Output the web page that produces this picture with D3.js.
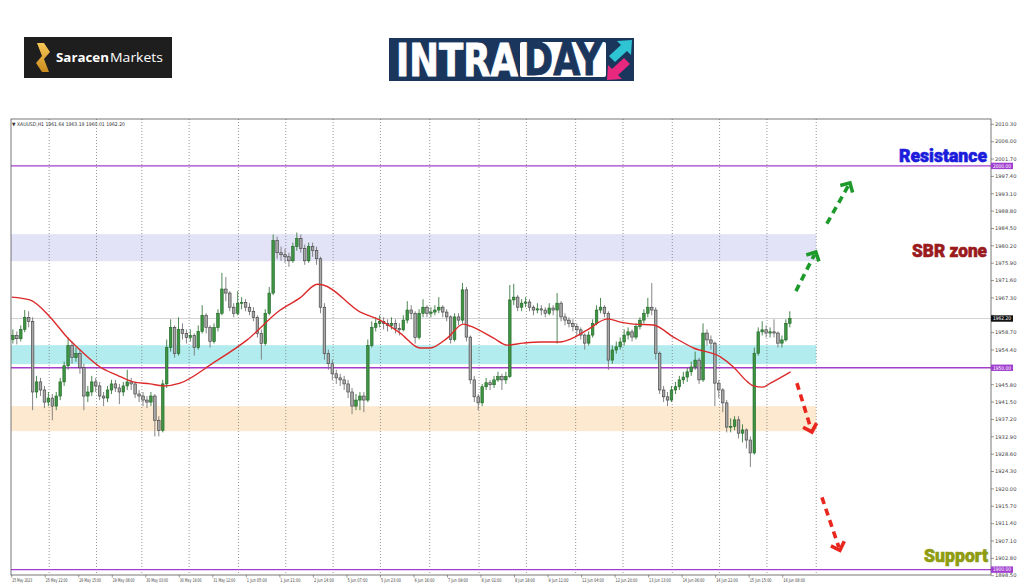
<!DOCTYPE html>
<html><head><meta charset="utf-8">
<script src="https://cdn.jsdelivr.net/npm/d3@7"></script>
<style>html,body{margin:0;padding:0;background:#fff;} svg{display:block;}</style>
</head><body>
<svg id="c" width="1024" height="587"></svg>
<script>
// ---------------- DATA ----------------
const symbol = "XAUUSD,H1";
const lastOHLC = [1961.64, 1963.19, 1960.01, 1962.20];
const lastPrice = 1962.20;
const firstOpen = 1957.0;
const closes = [
1958.0,1957.2,1959.5,1962.5,1961.5,1944.0,1946.5,1944.5,1941.5,1942.5,
1940.5,1943.0,1946.5,1950.5,1955.5,1952.5,1953.5,1950.0,1943.0,1944.0,
1946.5,1945.5,1943.0,1942.5,1944.5,1946.0,1945.0,1944.0,1945.5,1946.5,
1946.0,1943.5,1943.0,1942.0,1941.5,1943.0,1937.0,1934.5,1946.0,1955.0,
1960.0,1953.5,1959.5,1958.5,1957.5,1958.0,1955.0,1959.0,1963.0,1960.0,
1956.5,1960.0,1963.5,1969.5,1968.5,1965.0,1963.5,1966.0,1966.2,1965.0,
1964.0,1962.5,1958.5,1956.0,1963.5,1968.5,1981.5,1978.5,1978.0,1977.5,
1976.5,1980.0,1982.0,1979.5,1976.5,1980.0,1979.0,1977.0,1965.0,1953.5,
1951.0,1948.5,1947.5,1947.0,1946.0,1944.0,1940.5,1942.0,1943.0,1942.0,
1955.5,1960.0,1961.0,1961.5,1961.0,1960.5,1961.0,1959.7,1959.4,1961.8,
1964.3,1963.5,1957.5,1963.5,1965.0,1963.5,1963.8,1964.3,1965.0,1963.8,
1962.6,1957.0,1962.6,1961.8,1969.3,1957.6,1947.0,1942.8,1941.3,1945.3,
1946.3,1945.8,1947.0,1947.8,1947.0,1947.8,1966.8,1967.5,1965.0,1966.0,
1966.3,1965.0,1964.3,1964.6,1964.3,1963.5,1964.8,1964.3,1966.0,1962.6,
1961.8,1961.0,1960.2,1959.4,1958.1,1956.1,1958.1,1961.0,1964.3,1965.0,
1963.5,1951.9,1954.4,1955.2,1956.4,1958.1,1958.9,1957.6,1960.2,1961.8,
1963.5,1965.0,1964.3,1953.6,1944.5,1942.8,1942.0,1944.5,1945.3,1947.0,
1947.7,1949.0,1950.2,1951.9,1947.0,1958.6,1956.9,1956.1,1946.2,1944.5,
1941.3,1935.3,1935.5,1937.1,1933.8,1934.6,1932.1,1928.9,1953.6,1958.9,
1959.4,1958.6,1958.9,1958.6,1956.1,1956.9,1961.0,1962.2];
const highs = [
1959.5,1959.0,1960.5,1964.3,1964.0,1962.5,1948.0,1947.5,1945.5,1944.0,
1943.5,1944.0,1947.5,1951.5,1957.5,1956.5,1955.0,1954.5,1951.0,1945.5,
1948.0,1947.5,1946.5,1944.0,1945.5,1947.0,1947.0,1946.0,1946.5,1949.5,
1947.5,1946.5,1944.5,1944.0,1943.0,1944.0,1943.5,1938.0,1947.0,1957.0,
1962.0,1960.5,1962.5,1961.0,1959.5,1959.5,1958.5,1960.5,1965.5,1963.5,
1960.5,1961.0,1964.5,1973.5,1972.5,1969.0,1966.0,1969.0,1967.5,1967.0,
1966.0,1965.0,1963.0,1959.5,1964.5,1970.0,1983.0,1982.5,1980.0,1979.5,
1978.5,1981.0,1983.5,1983.0,1980.5,1981.0,1981.0,1980.0,1977.5,1966.0,
1954.5,1952.0,1949.5,1948.5,1948.0,1947.0,1945.0,1943.5,1944.0,1944.0,
1957.0,1961.5,1962.5,1963.0,1962.5,1962.0,1962.5,1962.0,1961.0,1963.0,
1966.5,1965.5,1964.0,1964.5,1967.0,1965.5,1965.0,1965.5,1967.5,1965.5,
1964.5,1963.0,1963.5,1963.5,1971.0,1970.0,1958.0,1948.0,1943.5,1946.0,
1947.5,1947.0,1948.0,1949.0,1948.5,1949.0,1970.5,1970.8,1968.0,1967.0,
1967.5,1967.0,1965.5,1966.0,1965.5,1965.0,1966.0,1965.5,1968.5,1966.5,
1963.5,1962.5,1962.0,1961.0,1960.0,1958.5,1959.0,1962.0,1965.5,1967.3,
1965.5,1964.0,1955.5,1956.5,1957.5,1959.5,1960.0,1959.5,1961.0,1962.5,
1964.5,1967.3,1971.0,1965.0,1954.0,1945.5,1944.0,1945.5,1946.5,1948.0,
1949.0,1950.0,1951.5,1954.0,1952.5,1961.0,1959.5,1958.0,1956.5,1947.0,
1945.0,1942.0,1937.5,1938.0,1938.0,1936.0,1935.0,1933.0,1955.0,1960.0,
1961.5,1960.5,1960.0,1962.0,1959.0,1958.0,1962.0,1964.0];
const lows = [
1956.0,1955.8,1956.5,1958.8,1960.0,1939.5,1942.5,1943.0,1940.0,1940.5,
1937.0,1939.5,1942.0,1945.5,1949.5,1951.0,1951.5,1948.5,1939.5,1941.5,
1943.0,1944.0,1942.0,1940.5,1941.5,1943.5,1944.0,1941.0,1943.0,1944.5,
1944.5,1942.5,1941.5,1940.5,1940.0,1940.5,1933.0,1933.0,1934.0,1945.0,
1954.0,1952.5,1953.0,1957.0,1956.0,1956.5,1953.0,1954.5,1958.5,1958.5,
1955.0,1956.0,1959.0,1963.0,1966.5,1964.0,1962.5,1963.0,1964.5,1964.0,
1963.0,1961.5,1957.5,1952.0,1955.5,1963.0,1968.0,1977.0,1976.5,1976.0,
1975.0,1976.0,1979.0,1978.5,1975.5,1976.0,1977.5,1975.5,1963.5,1952.0,
1949.5,1947.0,1946.0,1945.5,1944.5,1942.5,1938.5,1939.5,1939.5,1939.0,
1941.5,1955.0,1959.0,1960.0,1959.5,1959.0,1959.5,1958.5,1958.0,1959.0,
1961.0,1962.0,1956.0,1957.0,1962.5,1962.5,1962.5,1963.0,1963.5,1962.5,
1961.5,1956.0,1956.5,1960.5,1961.0,1956.5,1946.0,1941.5,1939.5,1940.5,
1944.5,1944.5,1945.0,1946.5,1944.5,1946.0,1947.5,1965.5,1964.0,1964.0,
1965.0,1964.0,1963.0,1963.5,1963.0,1962.5,1963.0,1963.0,1956.0,1961.5,
1960.5,1960.0,1959.0,1958.0,1957.0,1954.5,1955.5,1957.5,1960.5,1963.5,
1962.5,1949.5,1951.0,1953.5,1954.5,1955.5,1957.0,1956.5,1957.0,1959.5,
1961.0,1962.5,1963.0,1952.0,1943.5,1941.5,1940.5,1941.5,1943.5,1944.5,
1946.0,1946.5,1948.0,1949.5,1946.0,1946.5,1955.5,1954.5,1940.5,1942.5,
1939.0,1934.0,1934.0,1934.5,1932.5,1931.5,1930.0,1925.4,1928.5,1953.0,
1958.0,1957.5,1957.5,1957.5,1955.0,1955.0,1956.5,1960.0];
// moving average (read at these candle indices)
const maIndex = [-0.3,4.3,9.4,13.7,17.8,22.1,26.4,30.5,34.8,38.1,42.4,50.8,59.4,67.8,72.8,77.2,78.7,88.1,93.1,98.2,103.3,105.8,110.2,114.2,116.0,121.8,125.4,129.4,133.8,138.8,141.4,145.7,150.8,154.1,157.4,162.4,167.5,172.6,179.4,182.7,186.3,187.8,190.1,192.1,197.2];
const maValues = [1967.5,1966.8,1962.6,1957.6,1953.7,1950.2,1948.2,1946.5,1946.0,1945.5,1946.2,1951.2,1956.9,1964.3,1967.3,1970.7,1970.5,1963.8,1961.8,1958.6,1954.9,1954.9,1957.4,1960.8,1960.3,1957.4,1955.6,1956.1,1956.4,1956.4,1957.1,1959.4,1962.1,1961.3,1960.8,1960.6,1957.6,1954.9,1952.7,1950.2,1946.5,1945.5,1945.2,1946.2,1949.0];
const xLabels = ["25 May 2023","25 May 22:00","26 May 15:00","29 May 08:00","30 May 03:00","30 May 19:00","31 May 12:00","1 Jun 05:00","1 Jun 21:00","2 Jun 14:00","5 Jun 07:00","5 Jun 23:00","6 Jun 16:00","7 Jun 09:00","8 Jun 02:00","8 Jun 18:00","9 Jun 11:00","12 Jun 04:00","12 Jun 20:00","13 Jun 13:00","14 Jun 06:00","14 Jun 22:00","15 Jun 15:00","16 Jun 08:00"];
const barsPerLabel = 17;
const gridBars = [19,43,66,90,115,139,163,187,212,237,261,286,310,335,359,383,408];
const yTicks = [2010.3,2006.0,2001.7,1997.4,1993.1,1988.8,1984.5,1980.2,1975.9,1971.6,1967.3,1963.0,1958.7,1954.4,1950.1,1945.8,1941.5,1937.2,1932.9,1928.6,1924.3,1920.0,1915.7,1911.4,1907.1,1902.8,1898.5];
const levels = [2000, 1950, 1900];
const zoneNames = ["SBR", "Pivot", "Demand"];
const zoneTop = [1983.1, 1955.6, 1940.5];
const zoneBottom = [1976.4, 1950.9, 1934.3];
const zoneEndBar = 408;
const arrowKind = ["up","up","down","down"];
const arrowFromBar = [397.7, 413.4, 398.2, 410.9];
const arrowFromPrice = [1969.0, 1985.7, 1946.2, 1917.9];
const arrowToBar = [407.8, 425.1, 405.8, 420.0];
const arrowToPrice = [1978.7, 1995.8, 1934.1, 1904.8];
const noteTexts = ["Resistance", "SBR zone", "Support"];
const notePrices = [2001.0, 1977.5, 1902.0];

// ---------------- LAYOUT ----------------
const svg = d3.select("#c");
const L = 11, R = 991, T = 119, B = 575;
const x = d3.scaleLinear().domain([0, barsPerLabel * (xLabels.length - 1)]).range([11.7, 782.7]);
const y = d3.scaleLinear().domain([1898.67, 2011.62]).range([B, T]);
const cx = i => x(2 * i + 0.6);

svg.append("rect").attr("width", 1024).attr("height", 587).attr("fill", "#fff");

// ---- logos ----
const logo1 = svg.append("g");
logo1.append("rect").attr("x", 24).attr("y", 37).attr("width", 148).attr("height", 41).attr("fill", "#1e1e1e");
const defs = svg.append("defs");
const gg = defs.append("linearGradient").attr("id", "gold").attr("x1", 0).attr("y1", 0).attr("x2", 0).attr("y2", 1);
gg.append("stop").attr("offset", "0").attr("stop-color", "#f7c857");
gg.append("stop").attr("offset", "1").attr("stop-color", "#c98a1e");
logo1.append("path").attr("d", "M37,43 L44,43 L50,52 L44,59 L49,72 L42,72 L36,63 L42,56 Z").attr("fill", "url(#gold)");
logo1.append("text").attr("x", 56).attr("y", 62).attr("font-family", "Open Sans, sans-serif").attr("font-weight", 700)
  .attr("font-size", 13).attr("fill", "#fff").attr("textLength", 53).attr("lengthAdjust", "spacingAndGlyphs").text("Saracen");
logo1.append("text").attr("x", 110).attr("y", 62).attr("font-family", "Open Sans, sans-serif").attr("font-weight", 400)
  .attr("font-size", 13).attr("fill", "#fff").attr("textLength", 53).attr("lengthAdjust", "spacingAndGlyphs").text("Markets");

const logo2 = svg.append("g");
const navy = "#1b365d";
logo2.append("rect").attr("x", 389).attr("y", 38).attr("width", 245).attr("height", 43).attr("fill", navy);
logo2.append("text").attr("x", 396).attr("y", 76).attr("font-family", "DejaVu Sans Condensed, DejaVu Sans, sans-serif")
  .attr("font-weight", 700).attr("font-size", 44).attr("fill", "#fff").attr("stroke", "#fff").attr("stroke-width", 0.8)
  .attr("textLength", 122).attr("lengthAdjust", "spacingAndGlyphs").text("INTRA");
logo2.append("rect").attr("x", 520).attr("y", 42).attr("width", 86).attr("height", 35).attr("rx", 2).attr("fill", "#fff");
logo2.append("text").attr("x", 524).attr("y", 75).attr("font-family", "DejaVu Sans Condensed, DejaVu Sans, sans-serif")
  .attr("font-weight", 700).attr("font-size", 44).attr("fill", navy).attr("stroke", navy).attr("stroke-width", 0.8)
  .attr("textLength", 78).attr("lengthAdjust", "spacingAndGlyphs").text("DAY");
logo2.append("polygon").attr("points", "632,40 631,55 627,51 615,62 609,56 621,45 617,41").attr("fill", "#2ec4d4");
logo2.append("polygon").attr("points", "607,80 608,65 612,69 624,58 630,64 618,75 622,79").attr("fill", "#e8287f");

// ---- chart ----
const plot = svg.append("g");
// zones
const zoneFill = ["#e3e3f8", "#b3ecef", "#fde9cf"];
zoneNames.forEach((n, k) => {
  plot.append("rect").attr("x", L).attr("width", x(zoneEndBar) - L)
    .attr("y", y(zoneTop[k])).attr("height", y(zoneBottom[k]) - y(zoneTop[k])).attr("fill", zoneFill[k]);
});
// grid
gridBars.forEach(b => {
  plot.append("line").attr("x1", x(b)).attr("x2", x(b)).attr("y1", T).attr("y2", B)
    .attr("stroke", "#6a6a6a").attr("stroke-width", 0.7).attr("stroke-dasharray", "1,2");
});
// last price line
plot.append("line").attr("x1", L).attr("x2", R).attr("y1", y(lastPrice)).attr("y2", y(lastPrice))
  .attr("stroke", "#c8c8c8").attr("stroke-width", 0.8);
// levels
levels.forEach(v => {
  plot.append("line").attr("x1", L).attr("x2", R).attr("y1", y(v)).attr("y2", y(v))
    .attr("stroke", "#a43ccc").attr("stroke-width", 1.3);
});
// candles
const opens = closes.map((c, i) => i === 0 ? firstOpen : closes[i - 1]);
const cg = plot.append("g");
closes.forEach((c, i) => {
  const o = opens[i];
  const up = c >= o;
  const stroke = up ? "#1f6424" : "#3a3a3a";
  const fill = up ? "#3f9444" : "#a8a8a8";
  const xc = cx(i);
  cg.append("line").attr("x1", xc).attr("x2", xc).attr("y1", y(highs[i])).attr("y2", y(lows[i]))
    .attr("stroke", up ? "#3a7a3e" : "#777").attr("stroke-width", 0.9);
  const top = y(Math.max(o, c)), h = Math.max(0.9, Math.abs(y(o) - y(c)));
  cg.append("rect").attr("x", xc - 1.3).attr("width", 2.6).attr("y", top).attr("height", h)
    .attr("fill", fill).attr("stroke", stroke).attr("stroke-width", 0.6);
});
// MA
const maLine = d3.line().x((d, k) => cx(maIndex[k])).y(d => y(d)).curve(d3.curveMonotoneX);
plot.append("path").attr("d", maLine(maValues)).attr("fill", "none").attr("stroke", "#dc2a2a").attr("stroke-width", 1.4);

// arrows
arrowKind.forEach((kind, k) => {
  const col = kind === "up" ? "#1e9a2c" : "#e8261e";
  const x1 = x(arrowFromBar[k]), y1 = y(arrowFromPrice[k]), x2 = x(arrowToBar[k]), y2 = y(arrowToPrice[k]);
  const ang = Math.atan2(y2 - y1, x2 - x1);
  const back = 3;
  plot.append("line").attr("x1", x1).attr("y1", y1)
    .attr("x2", x2 - back * Math.cos(ang)).attr("y2", y2 - back * Math.sin(ang))
    .attr("stroke", col).attr("stroke-width", 3.6).attr("stroke-dasharray", "7,5");
  const a = 10, spread = Math.PI / 4;
  const p1 = [x2 - a * Math.cos(ang - spread), y2 - a * Math.sin(ang - spread)];
  const p2 = [x2 - a * Math.cos(ang + spread), y2 - a * Math.sin(ang + spread)];
  plot.append("polyline").attr("points", `${p1} ${x2},${y2} ${p2}`).attr("fill", "none")
    .attr("stroke", col).attr("stroke-width", 3.6).attr("stroke-linejoin", "miter");
});

// notes
const noteColor = ["#1c1cdc", "#9a1a1e", "#8e9c10"];
const noteLen = [88, 75, 64];
noteTexts.forEach((t, k) => {
  plot.append("text").attr("x", k === 2 ? 988 - noteLen[k] : 987 - noteLen[k]).attr("y", y(notePrices[k]))
    .attr("font-family", "Roboto, sans-serif").attr("font-weight", 900).attr("font-size", 18)
    .attr("fill", noteColor[k]).attr("stroke", noteColor[k]).attr("stroke-width", 0.6)
    .attr("textLength", noteLen[k]).attr("lengthAdjust", "spacingAndGlyphs").text(t);
});

// frame
plot.append("rect").attr("x", L).attr("y", T).attr("width", R - L).attr("height", B - T)
  .attr("fill", "none").attr("stroke", "#555").attr("stroke-width", 0.8);

// header
svg.append("text").attr("x", 12).attr("y", 125.5).attr("font-family", "DejaVu Sans, sans-serif").attr("font-size", 5)
  .attr("fill", "#333").attr("textLength", 113).attr("lengthAdjust", "spacingAndGlyphs")
  .text("\u25BC " + symbol + "  " + lastOHLC.map(v => v.toFixed(2)).join(" "));

// y axis
const ax = svg.append("g").attr("font-family", "DejaVu Sans, sans-serif").attr("font-size", 5.2).attr("fill", "#444");
const boxPrices = levels.concat([lastPrice]);
yTicks.forEach(v => {
  ax.append("line").attr("x1", R).attr("x2", R + 3).attr("y1", y(v)).attr("y2", y(v)).attr("stroke", "#555").attr("stroke-width", 0.6);
  const hidden = boxPrices.some(p => y(v) < y(p) + 1 && y(v) > y(p) - 6.5) && !(v < 1899);
  if (!hidden) ax.append("text").attr("x", R + 4).attr("y", y(v) + 1.8).text(v.toFixed(2));
});
// x axis
xLabels.forEach((t, k) => {
  const xx = x(k * barsPerLabel);
  ax.append("line").attr("x1", xx).attr("x2", xx).attr("y1", B).attr("y2", B + 2.5).attr("stroke", "#555").attr("stroke-width", 0.6);
  ax.append("text").attr("x", xx + 0.5).attr("y", B + 6.5).attr("textLength", t.length * 1.82)
    .attr("lengthAdjust", "spacingAndGlyphs").text(t);
});
// price boxes
levels.forEach(v => {
  ax.append("rect").attr("x", R).attr("y", y(v) - 3.2).attr("width", 22).attr("height", 6.4).attr("fill", "#a13fd0");
  ax.append("text").attr("x", R + 2).attr("y", y(v) + 1.8).attr("fill", "#fff").attr("textLength", 18)
    .attr("lengthAdjust", "spacingAndGlyphs").text(v.toFixed(2));
});
ax.append("rect").attr("x", R).attr("y", y(lastPrice) - 3.2).attr("width", 22).attr("height", 6.4).attr("fill", "#111");
ax.append("text").attr("x", R + 2).attr("y", y(lastPrice) + 1.8).attr("fill", "#fff").attr("textLength", 18)
  .attr("lengthAdjust", "spacingAndGlyphs").text(lastPrice.toFixed(2));
</script>
</body></html>
